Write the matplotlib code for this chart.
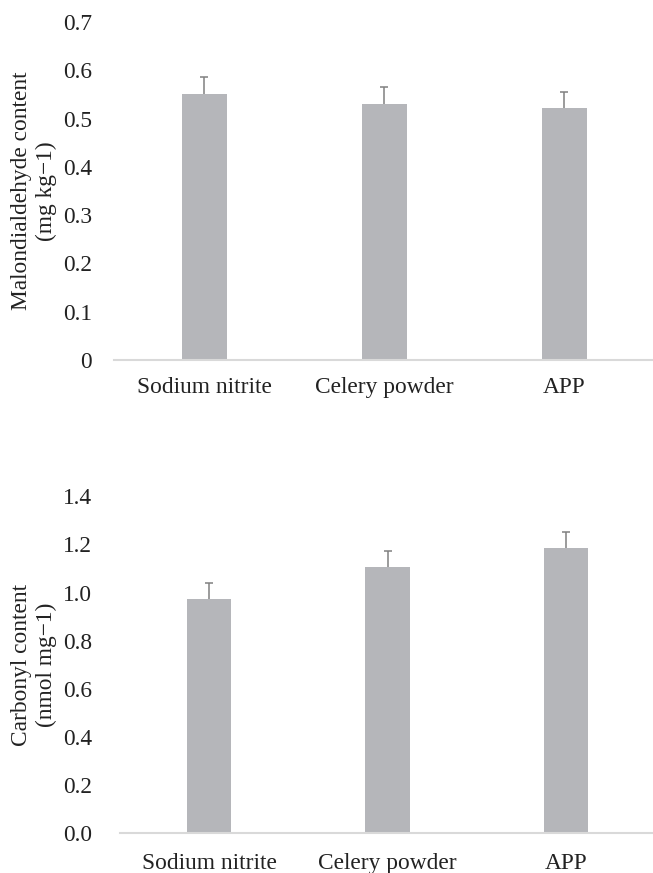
import matplotlib
matplotlib.use('Agg')
import matplotlib.pyplot as plt
import numpy as np

plt.rcParams['font.family'] = ['Liberation Serif', 'DejaVu Serif']

categories = ['Sodium nitrite', 'Celery powder', 'APP']

mda_values = [0.551, 0.531, 0.522]
mda_errors = [0.035, 0.034, 0.034]

carbonyl_values = [0.975, 1.105, 1.185]
carbonyl_errors = [0.065, 0.066, 0.066]

BAR_COLOR = '#b5b6ba'
ERR_COLOR = '#808080'
AXIS_COLOR = '#d9d9d9'
FS = 16.8


def draw_panel(ax, values, errors, ylim, yticks, ytick_fmt, ylabel, label_x, ypad, xpad):
    x = np.arange(len(categories))
    ax.bar(x, values, width=0.25, color=BAR_COLOR, zorder=2)
    _, caps, _ = ax.errorbar(x, values, yerr=[np.zeros(len(values)), errors], fmt='none',
                             ecolor=ERR_COLOR, elinewidth=1.1, capsize=3.2,
                             capthick=1.1, zorder=3)
    # only the upper cap is shown
    for c in caps:
        if np.allclose(c.get_ydata(), values):
            c.set_visible(False)
    ax.set_xlim(-0.5, len(categories) - 0.5)
    ax.set_ylim(*ylim)
    ax.set_yticks(yticks)
    ax.set_yticklabels([ytick_fmt.format(v) for v in yticks], fontsize=FS)
    ax.set_xticks(x)
    ax.set_xticklabels(categories, fontsize=FS)
    ax.tick_params(axis='both', length=0, colors='#222222')
    ax.tick_params(axis='y', pad=ypad)
    ax.tick_params(axis='x', pad=xpad)
    for s in ['top', 'right', 'left']:
        ax.spines[s].set_visible(False)
    ax.spines['bottom'].set_color(AXIS_COLOR)
    ax.spines['bottom'].set_linewidth(1.5)
    ax.set_ylabel(ylabel, fontsize=FS, color='#222222', linespacing=1.2)
    ax.yaxis.set_label_coords(label_x, 0.5)


fig = plt.figure(figsize=(6.53, 8.73), dpi=100)
fig.patch.set_facecolor('white')

ax1 = fig.add_axes([0.1746, 0.5876, 0.827, 0.3872])
draw_panel(ax1, mda_values, mda_errors, (0, 0.7),
           [0, 0.1, 0.2, 0.3, 0.4, 0.5, 0.6, 0.7],
           '{:g}', 'Malondialdehyde content\n(mg kg\u22121)', -0.106, 16, 12)

ax2 = fig.add_axes([0.1838, 0.0455, 0.8193, 0.386])
draw_panel(ax2, carbonyl_values, carbonyl_errors, (0, 1.4),
           [0.0, 0.2, 0.4, 0.6, 0.8, 1.0, 1.2, 1.4],
           '{:.1f}', 'Carbonyl content\n(nmol mg\u22121)', -0.118, 20, 14)

fig.savefig('out.png', dpi=100, facecolor='white')
plt.close(fig)
